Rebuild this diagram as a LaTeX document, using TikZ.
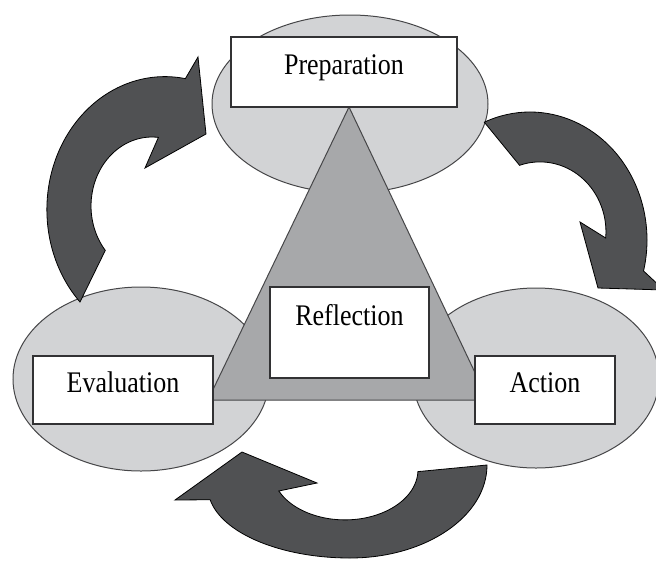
\documentclass[tikz,border=0pt]{standalone}
\usepackage{fontspec}
\setmainfont{Liberation Serif}
\usepackage{graphicx}
\begin{document}
\begin{tikzpicture}[x=1pt,y=-1pt,
  stage/.style={fill=stagegray, draw=rimgray, line width=1pt},
  wedge/.style={fill=wedgegray, draw=rimgray, line width=1pt, line join=miter},
  label box/.style={draw=boxgray, fill=white, line width=1.3pt, inner sep=0pt,
    text height=22pt, text depth=17pt, font=\fontsize{26}{30}\selectfont},
  turn/.style={fill=turngray, draw=black, line width=0.8pt, line join=miter}]
\definecolor{stagegray}{RGB}{210,211,213}
\definecolor{wedgegray}{RGB}{167,168,170}
\definecolor{turngray}{RGB}{80,81,83}
\definecolor{rimgray}{RGB}{70,70,72}
\definecolor{boxgray}{RGB}{50,50,52}
\useasboundingbox (0,0) rectangle (656,560);
\clip (0,0) rectangle (656,560);
\draw[stage] (350,104) ellipse [x radius=138, y radius=89];
\draw[stage] (141,379) ellipse [x radius=128, y radius=92];
\draw[stage] (536,378) ellipse [x radius=123, y radius=90];
\draw[wedge] (349,107) -- (208,400) -- (488,400) -- cycle;
\node[label box, minimum width=226pt, minimum height=70pt] (prep) at (344,72) {\scalebox{1}[1.15]{Preparation}};
\node[label box, minimum width=180pt, minimum height=68pt] (eval) at (123,390) {\scalebox{1}[1.15]{Evaluation}};
\node[label box, minimum width=140pt, minimum height=68pt] (act) at (545,390) {\scalebox{1}[1.15]{Action}};
\node[label box, minimum width=159pt, minimum height=91pt, text depth=36pt] (refl) at (349.5,332.5) {\scalebox{1}[1.15]{Reflection}};
\draw[turn] (80,302) arc [start angle=136, end angle=280, x radius=118, y radius=133]
  -- (198,57) -- (206,134) -- (145,168)
  -- (158.4,137.4) arc [start angle=276, end angle=140, x radius=61, y radius=69] -- cycle;
\draw[turn] (484.3,122.2) arc [start angle=247, end angle=374, x radius=117, y radius=128]
  -- (664,290) -- (598,288) -- (580,222)
  -- (605.7,238) arc [start angle=365, end angle=252, x radius=66, y radius=70] -- cycle;
\draw[turn] (487,465) arc [start angle=0, end angle=90, x radius=137, y radius=93]
  arc [start angle=90, end angle=170, x radius=142, y radius=70.5]
  -- (175,500) -- (242,452) -- (317,483)
  -- (278.8,491) arc [start angle=155, end angle=2, x radius=73, y radius=50] -- cycle;
\end{tikzpicture}
\end{document}
